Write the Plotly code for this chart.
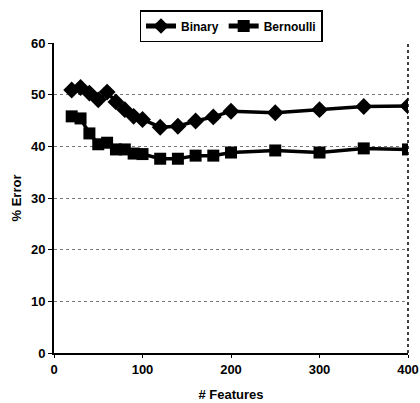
import plotly.graph_objects as go

features = [20, 30, 40, 50, 60, 70, 80, 90, 100, 120, 140, 160, 180, 200, 250, 300, 350, 400]
binary = [50.9, 51.4, 50.3, 49.0, 50.5, 48.6, 47.1, 45.8, 45.2, 43.7, 43.9, 44.9, 45.7, 46.8, 46.5, 47.1, 47.7, 47.8]
bernoulli = [45.8, 45.4, 42.5, 40.4, 40.7, 39.4, 39.4, 38.6, 38.5, 37.6, 37.6, 38.2, 38.2, 38.8, 39.2, 38.8, 39.6, 39.4]

x_ticks = [0, 100, 200, 300, 400]
y_ticks = [0, 10, 20, 30, 40, 50, 60]

font = dict(family="Liberation Sans, Arial, sans-serif", size=13, color="black", weight="bold")

fig = go.Figure()
fig.add_trace(go.Scatter(x=features, y=binary, mode="lines+markers", name="Binary",
                         line=dict(color="black", width=3.5),
                         marker=dict(symbol="diamond", size=13, color="black")))
fig.add_trace(go.Scatter(x=features, y=bernoulli, mode="lines+markers", name="Bernoulli",
                         line=dict(color="black", width=3.5),
                         marker=dict(symbol="square", size=12, color="black")))

fig.add_shape(type="line", xref="paper", yref="paper", x0=1, x1=1, y0=0, y1=1,
              line=dict(color="black", width=1.5, dash="dot"))

fig.update_layout(
    width=420, height=403,
    margin=dict(l=54, r=12, t=43, b=50, autoexpand=False),
    paper_bgcolor="white", plot_bgcolor="white",
    font=font,
    showlegend=True,
    legend=dict(orientation="h", xref="container", yref="container",
                x=231 / 420, xanchor="center", y=1 - 10 / 403, yanchor="top",
                bordercolor="black", borderwidth=1.5, bgcolor="white",
                font=dict(family="Liberation Sans, Arial, sans-serif", size=12, color="black", weight="bold"),
                itemsizing="constant", itemwidth=30, tracegroupgap=0),
    xaxis=dict(range=[0, 400], tickvals=x_ticks, showgrid=False, zeroline=False,
               showline=True, linecolor="black", linewidth=2, automargin=False,
               ticks="outside", ticklen=3, tickcolor="black",
               title=dict(text="# Features", standoff=14, font=font),
               tickfont=font),
    yaxis=dict(range=[0, 60], tickvals=y_ticks, showgrid=True, gridcolor="#777777",
               griddash="dot", gridwidth=1, zeroline=False, automargin=False,
               showline=True, linecolor="black", linewidth=2,
               ticks="outside", ticklen=4, tickcolor="black",
               title=dict(text="% Error", standoff=6, font=font),
               tickfont=font),
)

fig.write_html("out.html", config={"displayModeBar": False},
               post_script="document.body.style.margin='0';document.body.style.overflow='hidden';")
